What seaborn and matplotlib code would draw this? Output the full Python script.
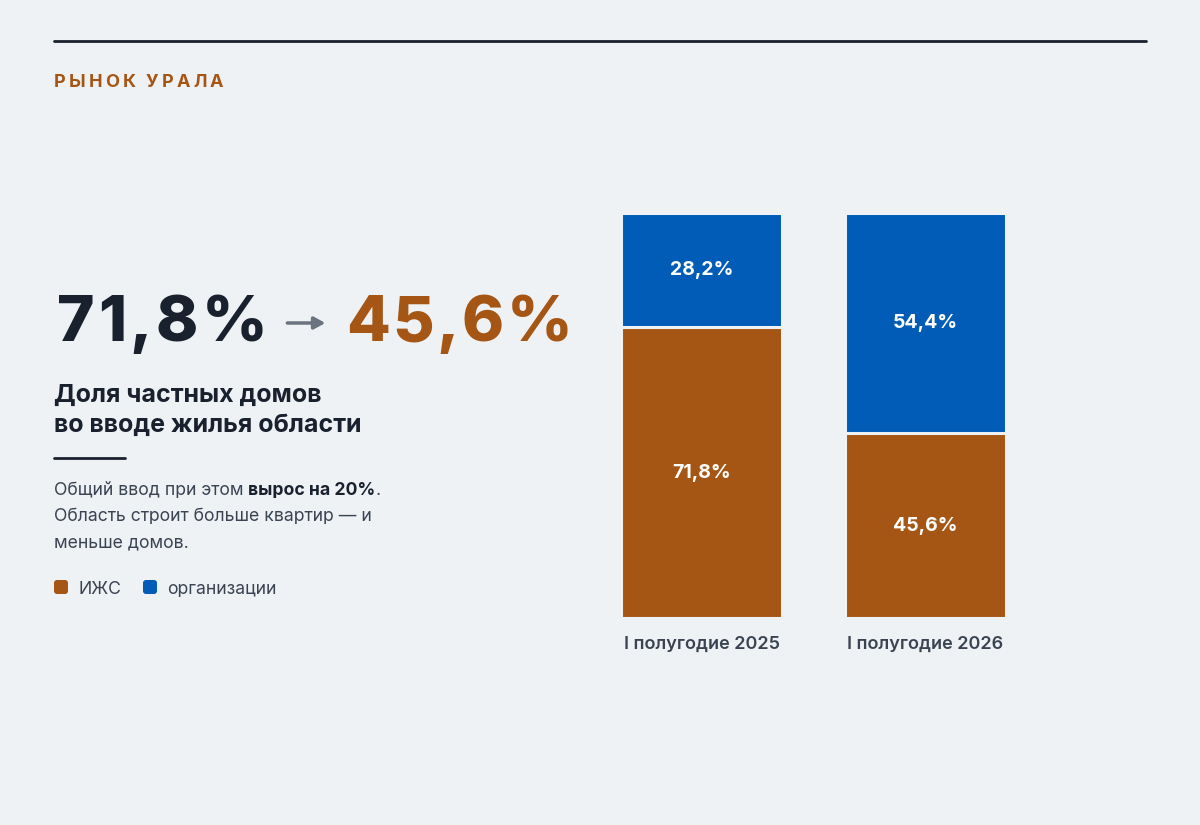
import matplotlib
matplotlib.use("Agg")
import matplotlib.pyplot as plt
import seaborn as sns
import pandas as pd

# данные
periods = ["I полугодие 2025", "I полугодие 2026"]
izhs = [71.8, 45.6]          # ИЖС, %
org = [28.2, 54.4]           # организации, %
growth = 20                  # рост общего ввода, %

BG = "#eef2f5"
ORANGE = "#a65614"
BLUE = "#005cb6"
DARK = "#19212e"
TEXT = "#3a4352"
GRAY = "#6b7280"

W, H = 1200, 825

sns.set_theme(style="white")
plt.rcParams["font.family"] = ["Inter", "DejaVu Sans"]
plt.rcParams["axes.unicode_minus"] = False


def pct(v):
    return "{:.1f}%".format(v).replace(".", ",")


fig = plt.figure(figsize=(12, 8.25), dpi=100, facecolor=BG)
renderer = fig.canvas.get_renderer()


def put(x, y, s, **kw):
    # x, y в пикселях от левого верхнего угла, y - базовая линия
    t = fig.text(x / W, 1 - y / H, s, va="baseline", ha="left", **kw)
    return t.get_window_extent(renderer).x1


def tracked(x, y, s, spacing, space, **kw):
    for ch in s:
        if ch == " ":
            x += space
            continue
        x = put(x, y, ch, **kw) + spacing
    return x - spacing


# --- подложка для рисования в пикселях
over = fig.add_axes([0, 0, 1, 1])
over.axis("off")
over.set_xlim(0, W)
over.set_ylim(H, 0)

# --- столбцы
ax = fig.add_axes([589.5 / W, 1 - 618 / H, 448 / W, 405 / H])
ax.set_facecolor(BG)
df = pd.DataFrame({"period": periods, "izhs": izhs, "org": org})
df["total"] = df["izhs"] + df["org"]
sns.barplot(data=df, x="period", y="total", color=BLUE, width=0.72,
            saturation=1, edgecolor=BG, linewidth=2.2, ax=ax)
sns.barplot(data=df, x="period", y="izhs", color=ORANGE, width=0.72,
            saturation=1, edgecolor=BG, linewidth=2.2, ax=ax)
ax.set_xlim(-0.5, 1.5)
ax.set_ylim(0, 100)
for i, row in df.iterrows():
    ax.text(i, row["izhs"] / 2, pct(row["izhs"]), ha="center", va="center",
            color="white", fontsize=14, fontweight="bold")
    ax.text(i, row["izhs"] + row["org"] / 2, pct(row["org"]), ha="center",
            va="center", color="white", fontsize=14, fontweight="bold")
ax.set_xlabel("")
ax.set_ylabel("")
ax.set_yticks([])
ax.tick_params(axis="x", length=0, pad=13, labelsize=13, labelcolor=TEXT)
for t in ax.get_xticklabels():
    t.set_fontweight("semibold")
sns.despine(ax=ax, left=True, bottom=True)

# --- верхняя линия и рубрика
over.plot([54, 1146], [41, 41], color=DARK, lw=2)
tracked(54, 87, "РЫНОК УРАЛА", 3.2, 7, color=ORANGE, fontsize=13,
        fontweight="bold")

# --- крупные цифры
x = tracked(57, 341, pct(izhs[0]), 3.5, 0, color=DARK, fontsize=46,
            fontweight="heavy")
over.annotate("", xy=(x + 58, 323), xytext=(x + 20, 323),
              arrowprops=dict(arrowstyle="-|>,head_length=0.55,head_width=0.3",
                              lw=2.5, color=GRAY, shrinkA=0, shrinkB=0))
tracked(x + 79, 341, pct(izhs[1]), 2.5, 0, color=ORANGE, fontsize=46,
        fontweight="heavy")

# --- заголовок
put(54, 402, "Доля частных домов", color=DARK, fontsize=18, fontweight="bold")
put(54, 432, "во вводе жилья области", color=DARK, fontsize=18,
    fontweight="bold")
over.plot([54, 125], [458, 458], color=DARK, lw=2)

# --- пояснение
fs = 12.7
x = put(54, 495, "Общий ввод при этом", color=TEXT, fontsize=fs)
x = put(x + 4.5, 495, "вырос на {}%".format(growth), color=DARK,
        fontsize=fs, fontweight="bold")
put(x, 495, ".", color=TEXT, fontsize=fs)
put(54, 521, "Область строит больше квартир — и", color=TEXT, fontsize=fs)
put(54, 547, "меньше домов.", color=TEXT, fontsize=fs)

# --- легенда
for lx, c, lab in [(54, ORANGE, "ИЖС"), (143, BLUE, "организации")]:
    sq = matplotlib.patches.FancyBboxPatch((lx + 2, 582), 10, 10,
                                           boxstyle="round,pad=2,rounding_size=3",
                                           fc=c, ec="none")
    over.add_patch(sq)
    put(lx + 24, 594, lab, color=TEXT, fontsize=fs)

fig.savefig("out.png", dpi=100, facecolor=BG)
